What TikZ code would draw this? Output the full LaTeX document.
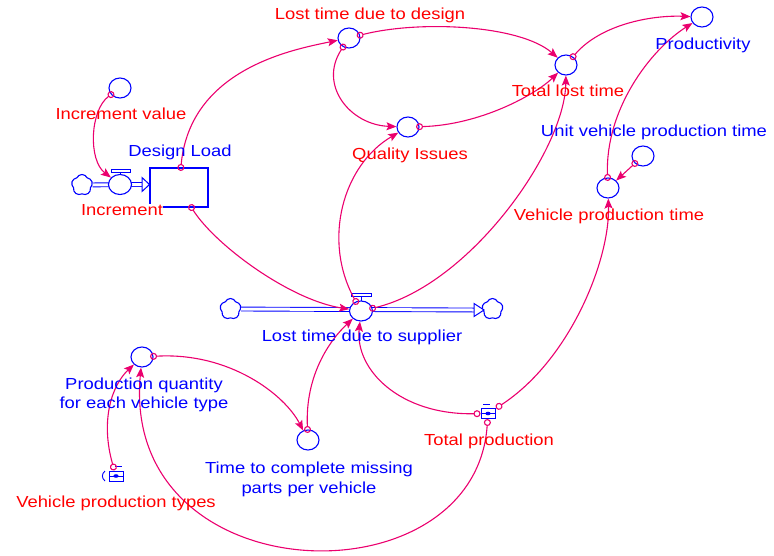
\documentclass[tikz,border=0pt]{standalone}
\usepackage{fontspec}
\setmainfont[FakeStretch=1.15]{Liberation Sans}
\usetikzlibrary{shapes.geometric,shapes.symbols,arrows.meta}
\definecolor{conn}{RGB}{235,0,110}
\definecolor{vblue}{RGB}{0,0,255}
\definecolor{vred}{RGB}{255,0,0}
\begin{document}
\begin{tikzpicture}[x=1pt,y=-1pt,
  aux/.style={ellipse, draw=vblue, line width=1.1pt, fill=white, minimum width=22pt, minimum height=20pt, inner sep=0pt},
  valve/.style={aux, minimum width=23pt, minimum height=20pt},
  stockbox/.style={rectangle, draw=vblue, line width=1.1pt, minimum width=58pt, minimum height=39pt, inner sep=0pt},
  cloudnode/.style={cloud, cloud puffs=5, cloud puff arc=130, aspect=1, draw=vblue, line width=1.1pt, fill=white, minimum width=21pt, minimum height=21pt, inner sep=0pt},
  icon/.style={rectangle, draw=vblue, line width=1pt, fill=white, minimum width=14pt, minimum height=10pt, inner sep=0pt, outer sep=4pt,
    path picture={\draw[vblue, line width=0.8pt] (path picture bounding box.west) -- (path picture bounding box.east);
      \fill[vblue] (path picture bounding box.center) ellipse (2.6pt and 1.8pt);}},
  lbl/.style={font=\fontsize{16}{19.5}\selectfont, inner sep=0pt, align=center, text height=11.5pt, text depth=0pt},
  bl/.style={lbl, text=vblue},
  rd/.style={lbl, text=vred},
  link/.style={draw=conn, line width=1.1pt, {Circle[open,length=7pt,width=7pt]}-{Stealth[length=10pt,width=8pt,inset=2pt]}, shorten <=-3.5pt},
  pipe/.style={draw=vblue, double=white, double distance=3pt, line width=0.9pt},
  tickmark/.style={draw=vblue, line width=0.9pt}
]
\useasboundingbox (0,0) rectangle (774,555);

% clouds and flow end points
\node[cloudnode] (c1) at (82,185) {};
\node[cloudnode] (c2) at (230.5,309) {};
\node[cloudnode] (c3) at (492.5,309) {};
\coordinate (dlin) at (142,184.5);
\coordinate (c3in) at (474,310);

% pipes
\draw[pipe] (c1) -- (dlin);
\draw[pipe] (c2) -- (c3in);
\draw[vblue, line width=1pt, fill=white] (142,177.5) -- (149.5,184.5) -- (142,191.5) -- cycle;
\draw[vblue, line width=1pt, fill=white] (474,303.5) -- (484,310) -- (474,316.5) -- cycle;

% stock
\node[stockbox] (dl) at (179,187.5) {};

% valves
\draw[vblue, line width=1pt] (120,176) -- (120,171);
\draw[vblue, line width=1pt, fill=white] (111,169) rectangle (130,172);
\node[valve] (inc) at (120,184.5) {};
\draw[vblue, line width=1pt] (361,302) -- (361,296);
\draw[vblue, line width=1pt, fill=white] (351,293) rectangle (371,296.5);
\node[valve] (ltds) at (361,311) {};

% auxiliaries
\node[aux] (incval) at (120,88) {};
\node[aux] (ltdd) at (349,38) {};
\node[aux] (prod) at (702,17) {};
\node[aux] (tlt) at (566,65) {};
\node[aux] (qi) at (408,127) {};
\node[aux] (uvpt) at (643,156) {};
\node[aux] (vpt) at (608,188) {};
\node[aux] (pq) at (142,357) {};
\node[aux] (tcm) at (308,440) {};

% icon variables
\node[icon] (totp) at (488,413.5) {};
\node[icon] (vpty) at (116,476) {};
\draw[tickmark] (483,404) -- (490,404);
\draw[tickmark] (115,466.5) -- (122,466.5);
\draw[tickmark] (105,471) .. controls (101.5,474) and (101.5,478) .. (105,481);

% connectors
\draw[link] (incval) .. controls (90,110) and (88,160) .. (inc);
\draw[link] (dl) .. controls (190,70) and (290,50) .. (ltdd);
\draw[link] (dl) .. controls (215,245) and (290,300) .. (ltds);
\draw[link] (ltdd) .. controls (420,20) and (520,25) .. (tlt);
\draw[link] (ltdd) .. controls (318,85) and (350,125) .. (qi);
\draw[link] (qi) .. controls (480,125) and (535,95) .. (tlt);
\draw[link] (tlt) .. controls (600,25) and (650,15) .. (prod);
\draw[link] (ltds) .. controls (470,285) and (565,150) .. (tlt);
\draw[link] (ltds) .. controls (322,240) and (343,165) .. (qi);
\draw[link] (vpt) .. controls (605,110) and (650,50) .. (prod);
\draw[link] (uvpt) -- (vpt);
\draw[link] (totp) .. controls (570,360) and (610,260) .. (vpt);
\draw[link] (totp) .. controls (400,415) and (355,370) .. (ltds);
\draw[link] (totp) .. controls (475,605) and (120,595) .. (pq);
\draw[link] (vpty) .. controls (100,420) and (112,385) .. (pq);
\draw[link] (pq) .. controls (230,352) and (285,395) .. (tcm);
\draw[link] (tcm) .. controls (305,375) and (330,340) .. (ltds);

% labels
\node[rd] (l-incval) at (121,114) {Increment value};
\node[rd] (l-ltdd) at (370,14) {Lost time due to design};
\node[bl] (l-prod) at (703,44) {Productivity};
\node[rd] (l-tlt) at (568,91) {Total lost time};
\node[rd] (l-qi) at (410,154) {Quality Issues};
\node[bl] (l-uvpt) at (654,131) {Unit vehicle production time};
\node[bl] (l-dl) at (180,151) {Design Load};
\node[rd, fill=white] (l-inc) at (122,209.5) {Increment};
\node[rd] (l-vpt) at (609,215) {Vehicle production time};
\node[bl] (l-ltds) at (362,336) {Lost time due to supplier};
\node[bl, anchor=north] (l-pq) at (144,397) {Production quantity\\for each vehicle type};
\node[rd] (l-totp) at (489,440) {Total production};
\node[bl, anchor=north] (l-tcm) at (309,481.5) {Time to complete missing\\parts per vehicle};
\node[rd] (l-vpty) at (116,502) {Vehicle production types};
\end{tikzpicture}
\end{document}
